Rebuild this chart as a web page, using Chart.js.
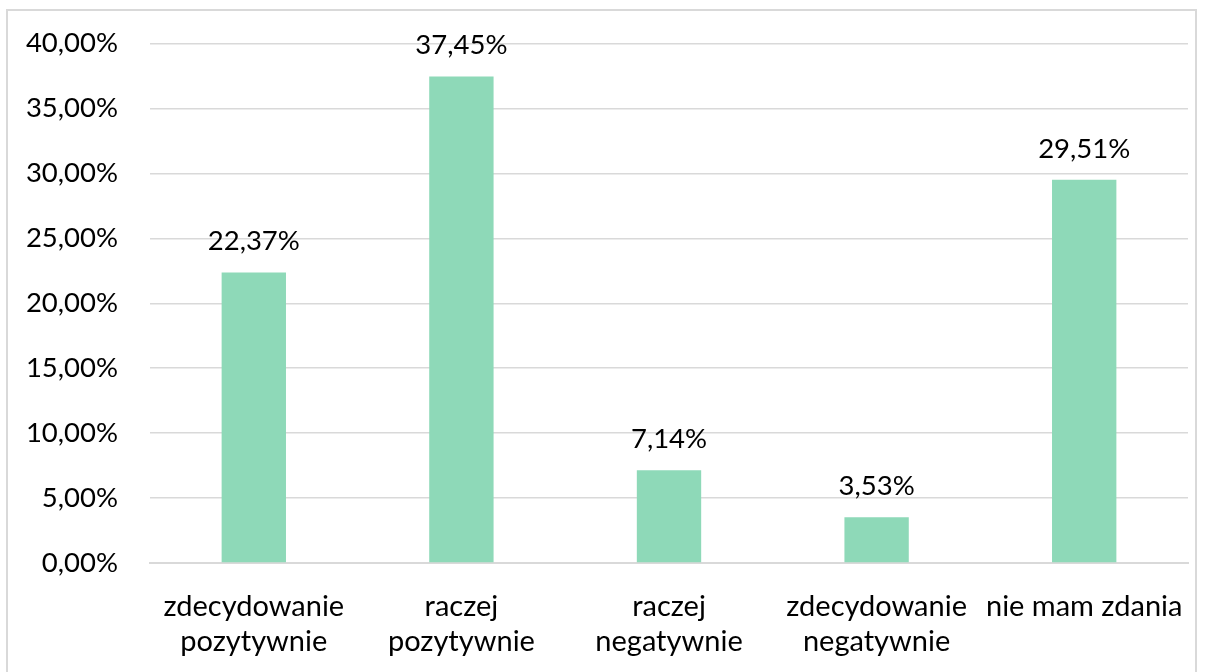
<!DOCTYPE html>
<html>
<head>
<meta charset="utf-8">
<script src="https://cdn.jsdelivr.net/npm/chart.js@4"></script>
<style>
  html, body { margin: 0; padding: 0; background: #fff; }
  #wrap { position: relative; width: 1206px; height: 672px; overflow: hidden; }
  #frame { position: absolute; left: 6px; top: 9px; width: 1191px; height: 700px; border: 2px solid #d9d9d9; box-sizing: border-box; }
  canvas { position: absolute; left: 0; top: -5px; }
</style>
</head>
<body>
<div id="wrap">
  <div id="frame"></div>
  <canvas id="chart" width="1206" height="677"></canvas>
</div>
<script>
// Dane
const categories = [
    ['zdecydowanie', 'pozytywnie'],
    ['raczej', 'pozytywnie'],
    ['raczej', 'negatywnie'],
    ['zdecydowanie', 'negatywnie'],
    'nie mam zdania'
];
const values = [22.37, 37.45, 7.14, 3.53, 29.51];

const barColor = '#8ED9B8';
const fontFamily = 'Lato, "Open Sans", sans-serif';

const fmt = (v, d) => v.toFixed(d).replace('.', ',') + '%';

// etykiety nad słupkami
const valueLabels = {
    id: 'valueLabels',
    afterDatasetsDraw(chart) {
        const ctx = chart.ctx;
        const meta = chart.getDatasetMeta(0);
        ctx.save();
        ctx.font = '27.5px ' + fontFamily;
        ctx.fillStyle = '#000';
        ctx.textAlign = 'center';
        ctx.textBaseline = 'middle';
        meta.data.forEach((bar, i) => {
            ctx.fillText(fmt(values[i], 2), bar.x, bar.y - 31);
        });
        ctx.restore();
    }
};

new Chart(document.getElementById('chart'), {
    type: 'bar',
    data: {
        labels: categories,
        datasets: [{
            data: values,
            backgroundColor: barColor,
            categoryPercentage: 1,
            barPercentage: 0.31
        }]
    },
    options: {
        responsive: false,
        animation: false,
        layout: { padding: { top: 10, right: 18, bottom: 0, left: 0 } },
        plugins: {
            legend: { display: false },
            tooltip: { enabled: false }
        },
        scales: {
            x: {
                grid: { display: false },
                border: { color: '#d9d9d9', width: 2 },
                ticks: {
                    color: '#000',
                    font: { family: fontFamily, size: 29, lineHeight: 1.22 },
                    padding: 18,
                    maxRotation: 0,
                    autoSkip: false
                },
                afterFit(scale) { scale.height = 109; }
            },
            y: {
                min: 0,
                max: 40,
                grid: { color: '#d9d9d9', lineWidth: 1.5, drawTicks: false },
                border: { display: false },
                ticks: {
                    stepSize: 5,
                    color: '#000',
                    font: { family: fontFamily, size: 27.5 },
                    padding: 32,
                    callback: v => fmt(v, 2)
                },
                afterFit(scale) { scale.width = 150; }
            }
        }
    },
    plugins: [valueLabels]
});
</script>
</body>
</html>
